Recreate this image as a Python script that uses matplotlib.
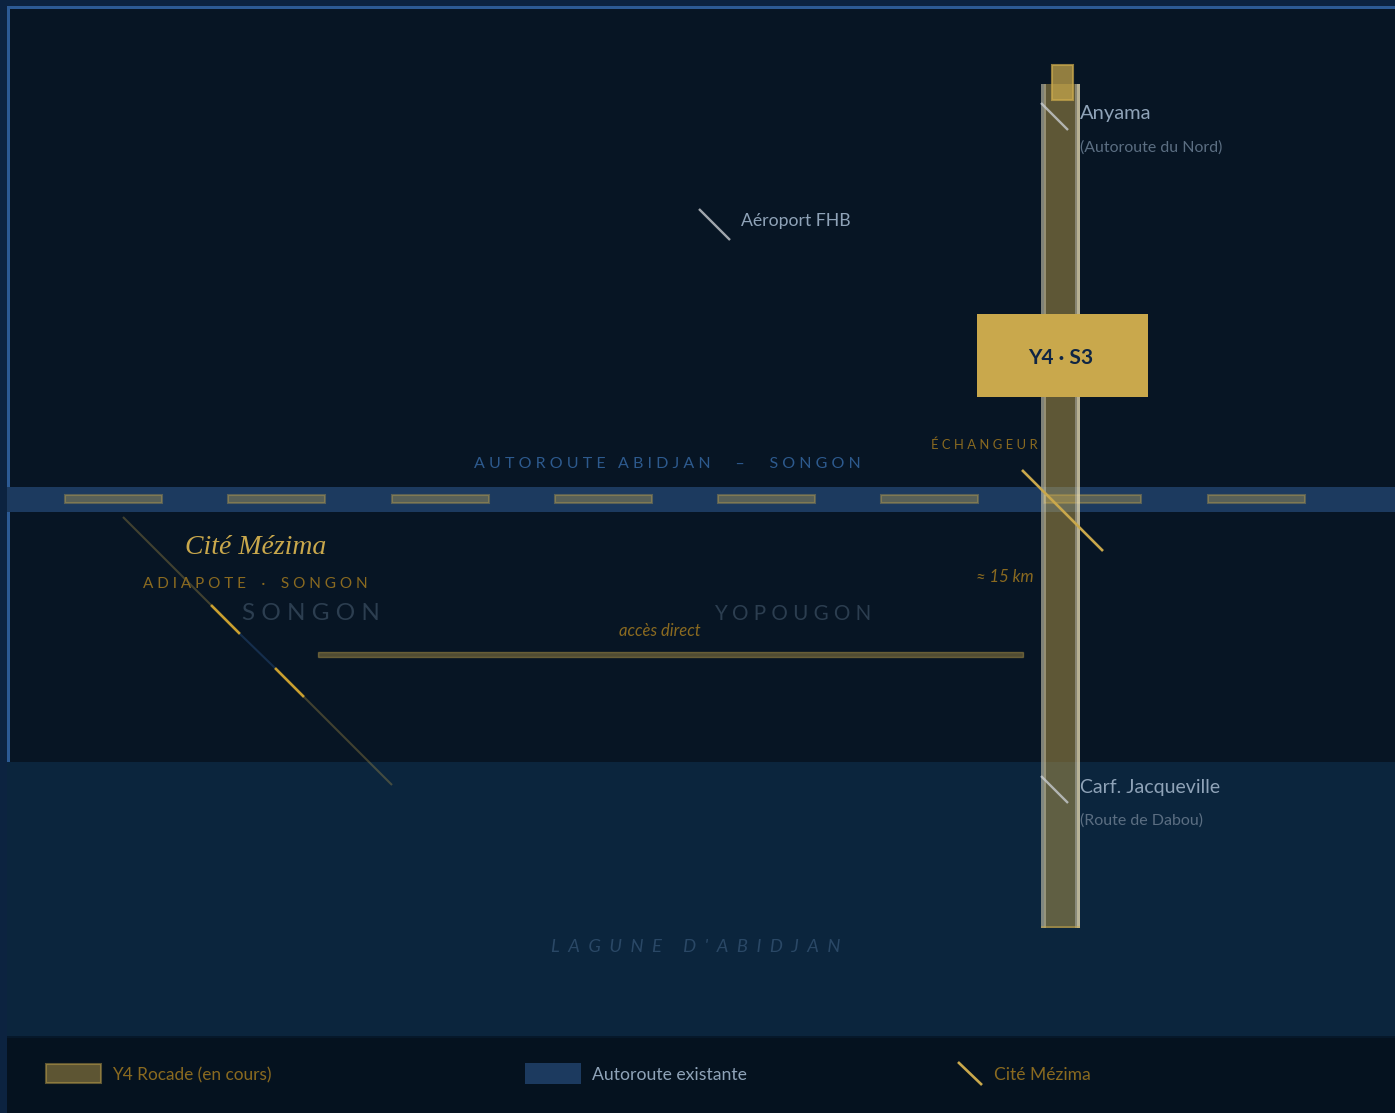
#!/usr/bin/env python3
"""Schematic map: Y4 rocade, Abidjan - Songon motorway and Cite Mezima."""

import matplotlib
matplotlib.use('Agg')
import matplotlib.pyplot as plt
from matplotlib.patches import Rectangle

WIDTH = 1395
HEIGHT = 1113

# Colours
BG = '#071524'
EDGE = '#0c2340'
FRAME = '#2c5a94'
LAGOON = '#0b253d'
ROAD = '#1c3a5f'
GOLD = '#c9a84c'
DARK_GOLD = '#8a6a20'
PALE = '#c8ccd0'

# Motorway dashes: left edges, all the same size
dash_lefts = [65, 228, 392, 555, 718, 881, 1044, 1208]
dash_size = (97, 8)
dash_y = 495

# Rocade
rocade_x = (1041, 1080)
rocade_y = (84, 928)
# side strips of the rocade casing (x0, x1, colour, alpha)
rocade_strips = [
    (1041, 1044, '#a9b8cc', 0.45),
    (1044, 1046, '#e8e4d0', 0.40),
    (1075, 1077, '#c8ccd0', 0.40),
    (1077, 1080, '#efe8cc', 0.62),
]

# Interchanges and small markers (x0, y0, x1, y1)
markers = [(1041, 103, 1068, 130), (699, 209, 730, 240), (1041, 776, 1068, 803)]
echangeur = (1022, 470, 1103, 551)

# Mezima diagonal, break points
mezima_x = [123, 211, 240, 275, 304, 392]
mezima_y = [517, 605, 634, 668, 697, 785]

# Text (x, y, text, colour, size, align)
labels = [
    (1080, 114, 'Anyama', '#8fa3b8', 14.5, 'left'),
    (1080, 148, '(Autoroute du Nord)', '#5b6e82', 11.4, 'left'),
    (741, 221, 'Aéroport FHB', '#8fa3b8', 12.7, 'left'),
    (1080, 787, 'Carf. Jacqueville', '#8fa3b8', 14, 'left'),
    (1080, 821, '(Route de Dabou)', '#5b6e82', 11.5, 'left'),
    (1038, 445, 'É C H A N G E U R', DARK_GOLD, 9.4, 'right'),
    (667, 464, 'A U T O R O U T E   A B I D J A N      –      S O N G O N', '#2d5a8e', 11.5, 'center'),
    (255, 584, 'A D I A P O T E    ·    S O N G O N', DARK_GOLD, 11, 'center'),
    (311, 614, 'S O N G O N', '#2c3e50', 17.5, 'center'),
    (793, 614, 'Y O P O U G O N', '#2c3e50', 14.8, 'center'),
    (592, 1075, 'Autoroute existante', '#8fa3b8', 12.7, 'left'),
    (112, 1075, 'Y4 Rocade (en cours)', DARK_GOLD, 12.4, 'left'),
    (994, 1075, 'Cité Mézima', DARK_GOLD, 12.6, 'left'),
]

plt.rcParams['font.family'] = ['Lato', 'DejaVu Sans']

fig = plt.figure(figsize=(WIDTH / 100, HEIGHT / 100), dpi=100, facecolor=EDGE)
ax = fig.add_axes([0, 0, 1, 1])
ax.set_xlim(0, WIDTH)
ax.set_ylim(HEIGHT, 0)
ax.axis('off')


def rect(x0, y0, x1, y1, **kw):
    kw.setdefault('linewidth', 0)
    ax.add_patch(Rectangle((x0, y0), x1 - x0, y1 - y0, **kw))


# Background, frame, lagoon, legend strip
rect(7, 6, WIDTH, HEIGHT, facecolor=BG)
rect(7, 6, WIDTH, 9, facecolor=FRAME)
rect(7, 6, 10, 762, facecolor=FRAME)
rect(7, 762, WIDTH, 1037, facecolor=LAGOON)
rect(7, 1037, WIDTH, HEIGHT, facecolor='#05121f')
rect(7, 1036, WIDTH, 1038, facecolor='#06182a')

# Motorway
rect(7, 487, WIDTH, 512, facecolor=ROAD)
for left in dash_lefts:
    rect(left, dash_y, left + dash_size[0], dash_y + dash_size[1],
         facecolor=GOLD, alpha=0.35, edgecolor=GOLD, linewidth=1.5)

# Rocade: gold core and pale side strips
rect(rocade_x[0], rocade_y[0], rocade_x[1], rocade_y[1], facecolor=GOLD, alpha=0.45)
for x0, x1, colour, alpha in rocade_strips:
    rect(x0, rocade_y[0], x1, rocade_y[1], facecolor=colour, alpha=alpha)
rect(rocade_x[0], rocade_y[1] - 2, rocade_x[1], rocade_y[1], facecolor=GOLD, alpha=0.5)

# Top cap of the rocade
rect(1052, 65, 1073, 100, facecolor=GOLD, alpha=0.72, edgecolor=GOLD, linewidth=1.5)

# Access line
rect(318, 652, 1023, 657, facecolor=GOLD, alpha=0.38, edgecolor=GOLD, linewidth=1)

for x0, y0, x1, y1 in markers:
    ax.plot([x0, x1], [y0, y1], color=PALE, lw=1.7, alpha=0.8, solid_capstyle='butt')
ax.plot([echangeur[0], echangeur[2]], [echangeur[1], echangeur[3]], color=GOLD, lw=1.9,
        solid_capstyle='butt')

# Mezima diagonal: faint, bright, dark, bright, faint
ax.plot(mezima_x[:2], mezima_y[:2], color=GOLD, lw=1.5, alpha=0.3, solid_capstyle='butt')
ax.plot(mezima_x[1:3], mezima_y[1:3], color='#c9a030', lw=1.9, solid_capstyle='butt')
ax.plot(mezima_x[2:4], mezima_y[2:4], color=ROAD, lw=1.5, alpha=0.7, solid_capstyle='butt')
ax.plot(mezima_x[3:5], mezima_y[3:5], color='#c9a030', lw=1.9, solid_capstyle='butt')
ax.plot(mezima_x[4:], mezima_y[4:], color=GOLD, lw=1.5, alpha=0.3, solid_capstyle='butt')

# Badge
rect(977, 314, 1148, 397, facecolor=GOLD)
ax.text(1061, 358, 'Y4 · S3', color='#0f2544', fontsize=15, fontweight='bold',
        ha='center', va='center')

for x, y, text, colour, size, align in labels:
    ax.text(x, y, text, color=colour, fontsize=size, ha=align, va='center')

ax.text(256, 547, 'Cité Mézima', color=GOLD, fontsize=20, style='italic',
        family='Liberation Serif', ha='center', va='center')
ax.text(1034, 577, '≈ 15 km', color=DARK_GOLD, fontsize=12, style='italic', ha='right', va='center')
ax.text(660, 631, 'accès direct', color=DARK_GOLD, fontsize=12, style='italic', ha='center', va='center')
ax.text(696, 947, 'L  A  G  U  N  E     D  \'  A  B  I  D  J  A  N', color='#2a4866', fontsize=13.2,
        style='italic', ha='center', va='center')

# Legend
rect(46, 1064, 101, 1083, facecolor=GOLD, alpha=0.45, edgecolor=GOLD, linewidth=1.5)
rect(525, 1063, 581, 1084, facecolor=ROAD)
ax.plot([958, 982], [1062, 1085], color=GOLD, lw=1.9, solid_capstyle='butt')

fig.savefig('out.png', dpi=100, facecolor=fig.get_facecolor())
